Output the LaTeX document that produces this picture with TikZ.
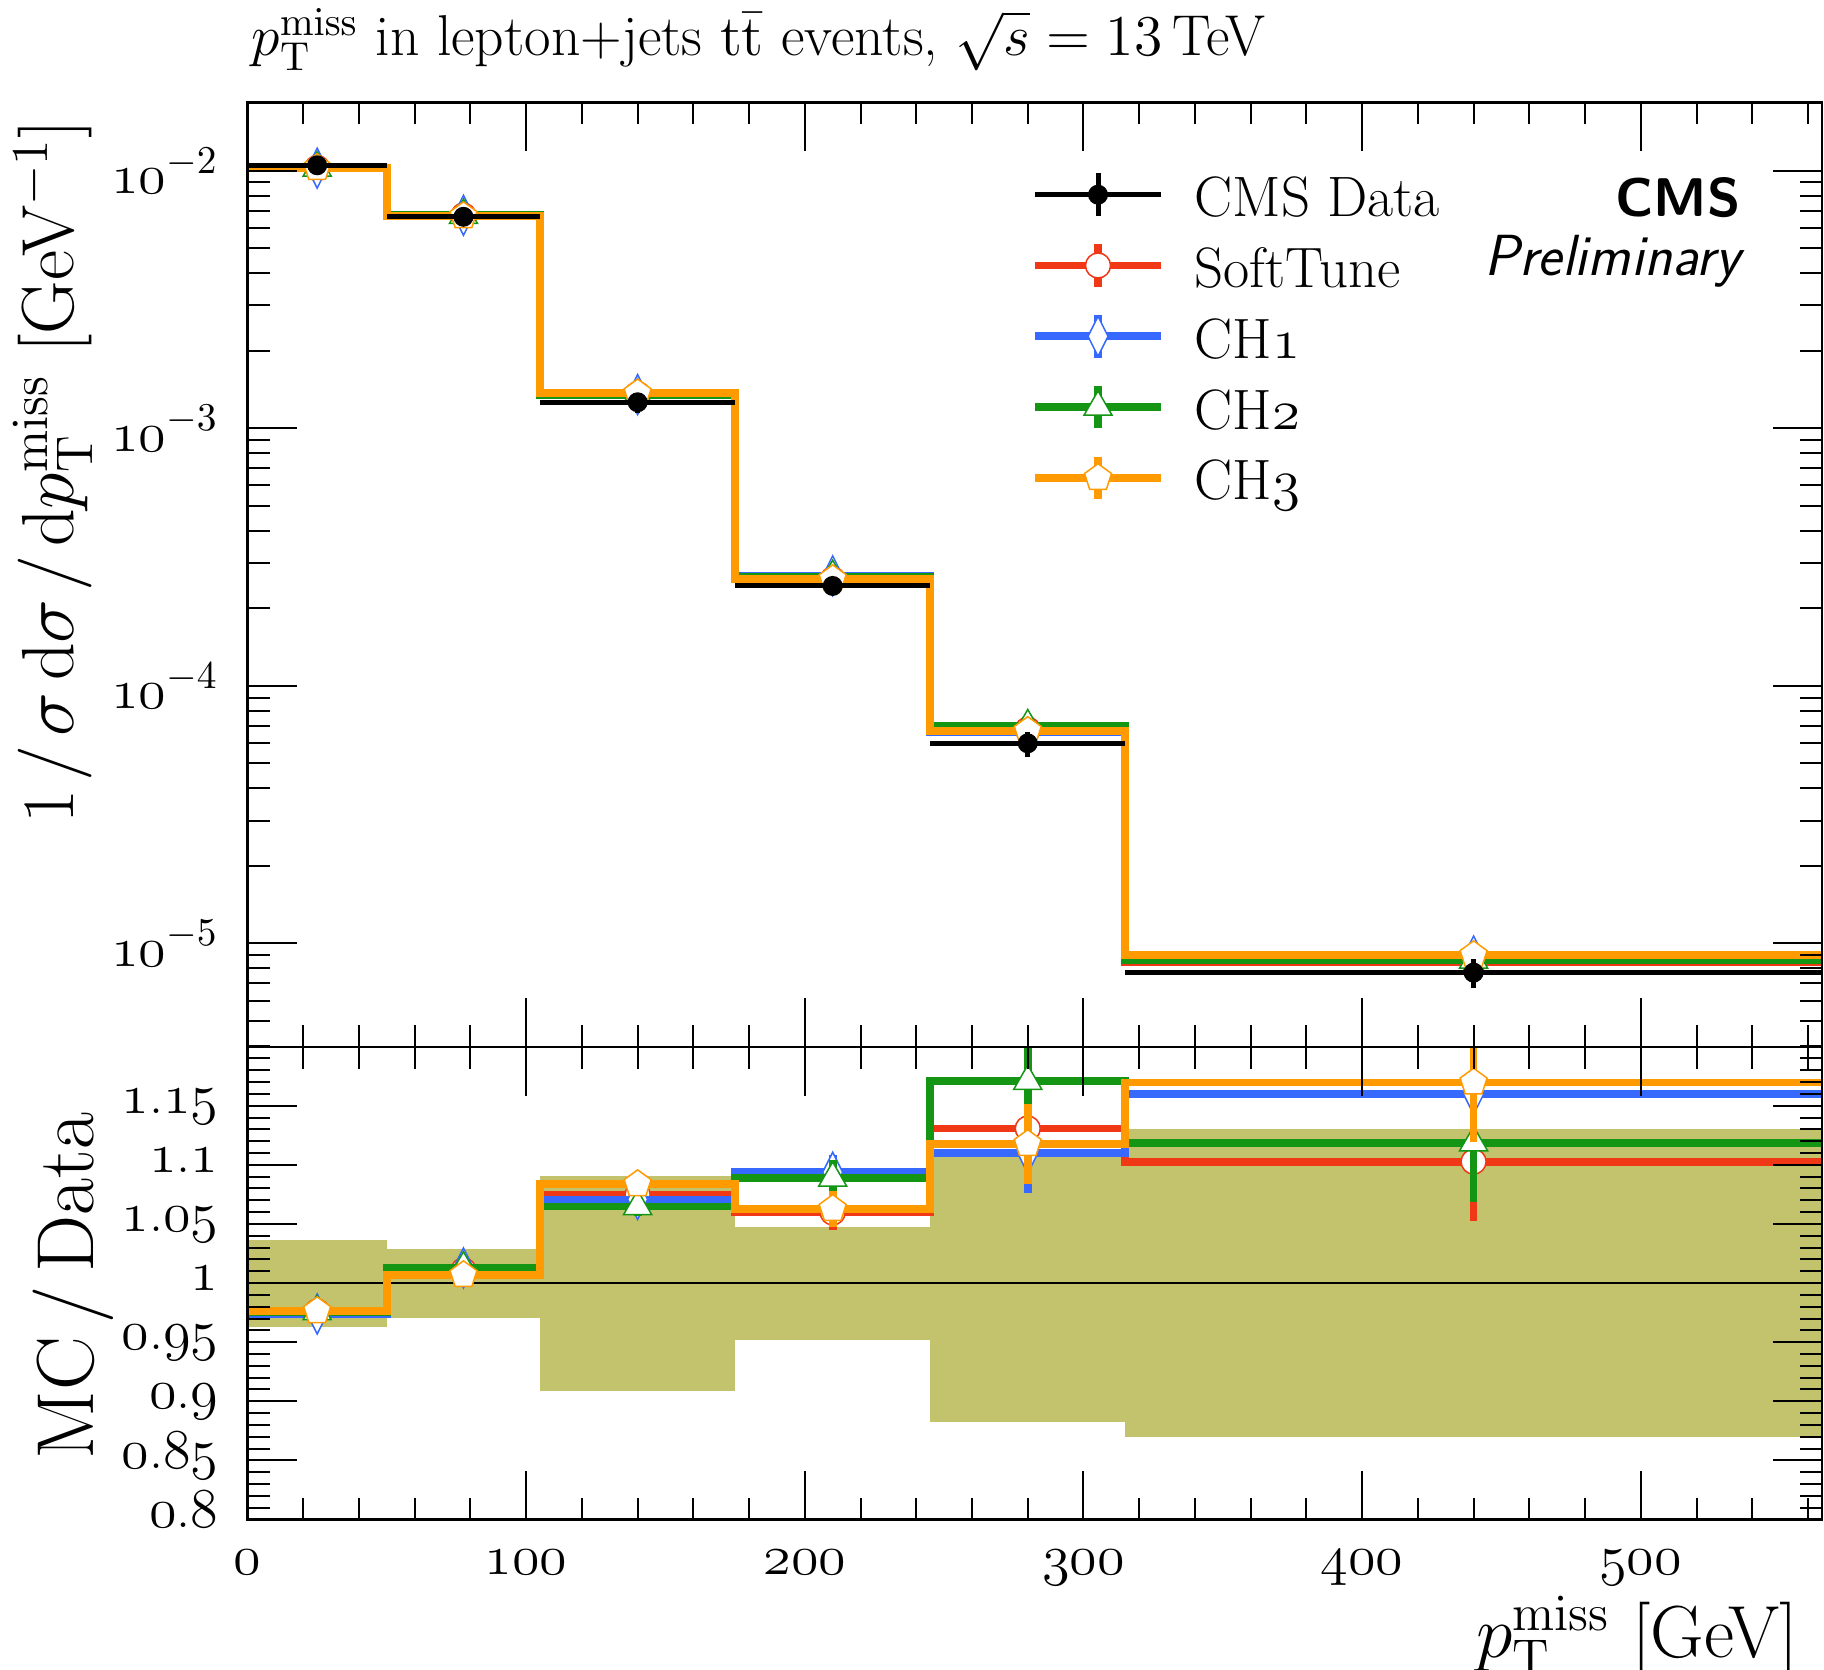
\RequirePackage{fix-cm}
\documentclass[tikz,border=0pt]{standalone}
\usepackage{tikz}
\usetikzlibrary{positioning}

\definecolor{softred}{RGB}{240,55,22}
\definecolor{chblue}{RGB}{55,105,255}
\definecolor{chgreen}{RGB}{20,150,20}
\definecolor{chorange}{RGB}{255,155,0}
\definecolor{bandolive}{RGB}{195,195,110}

% old style figures from the math italic font
\newcommand{\osn}[1]{{\fontencoding{OML}\fontfamily{cmm}\fontseries{m}\fontshape{it}\selectfont #1}}

% data: log10 of 1/sigma dsigma/dpT per bin
\newcommand{\lgA}{-1.979}
\newcommand{\lgB}{-2.179}
\newcommand{\lgC}{-2.899}
\newcommand{\lgD}{-3.612}
\newcommand{\lgE}{-4.223}
\newcommand{\lgF}{-5.113}
% MC stat. errors (ratio units)
\newcommand{\erA}{0.004}
\newcommand{\erB}{0.005}
\newcommand{\erC}{0.008}
\newcommand{\erD}{0.015}
\newcommand{\erE}{0.034}
\newcommand{\erF}{0.05}

\tikzset{
  frame/.style={line width=0.26mm},
  tck/.style={line width=0.2mm},
  dataline/.style={line width=0.5mm,black},
  softline/.style={line width=0.78mm,softred},
  choneline/.style={line width=0.78mm,chblue},
  chtwoline/.style={line width=0.78mm,chgreen},
  chthreeline/.style={line width=0.78mm,chorange},
  ticklab/.style={font=\fontsize{16}{19}\selectfont,inner sep=0pt},
  leglab/.style={font=\fontsize{16.2}{19}\selectfont,inner sep=0pt},
  axlab/.style={font=\fontsize{21}{25}\selectfont,inner sep=0pt},
  pics/datamk/.style={code={\fill[black] (0,0) circle[radius=1mm];}},
  pics/softmk/.style={code={\draw[softred,line width=0.15mm,fill=white] (0,0) circle[radius=1.25mm];}},
  pics/chonemk/.style={code={\draw[chblue,line width=0.15mm,fill=white] (0,2mm) -- (1mm,0) -- (0,-2mm) -- (-1mm,0) -- cycle;}},
  pics/chtwomk/.style={code={\draw[chgreen,line width=0.15mm,fill=white] (90:1.62mm) -- (210:1.62mm) -- (330:1.62mm) -- cycle;}},
  pics/chthreemk/.style={code={\draw[chorange,line width=0.15mm,fill=white] (90:1.42mm) -- (162:1.42mm) -- (234:1.42mm) -- (306:1.42mm) -- (18:1.42mm) -- cycle;}}
}

% one MC curve in the main panel: style, marker, six ratios to data
\newcommand{\mcmain}[8]{%
  \draw[#1] plot[const plot] coordinates {(0,{\lgA+log10(#3)}) (50,{\lgB+log10(#4)}) (105,{\lgC+log10(#5)}) (175,{\lgD+log10(#6)}) (245,{\lgE+log10(#7)}) (315,{\lgF+log10(#8)}) (565,{\lgF+log10(#8)})};
  \foreach \xc/\lg/\r/\e in {25/\lgA/#3/\erA,77.5/\lgB/#4/\erB,140/\lgC/#5/\erC,210/\lgD/#6/\erD,280/\lgE/#7/\erE,440/\lgF/#8/\erF}{
    \draw[#1] (\xc,{\lg+log10(\r-\e)}) -- (\xc,{\lg+log10(\r+\e)});
    \pic at (\xc,{\lg+log10(\r)}) {#2};
  }
}
% the same curve in the ratio panel
\newcommand{\mcratio}[8]{%
  \draw[#1] plot[const plot] coordinates {(0,#3) (50,#4) (105,#5) (175,#6) (245,#7) (315,#8) (565,#8)};
  \foreach \xc/\r/\e in {25/#3/\erA,77.5/#4/\erB,140/#5/\erC,210/#6/\erD,280/#7/\erE,440/#8/\erF}{
    \draw[#1] (\xc,{\r-\e}) -- (\xc,{\r+\e});
    \pic at (\xc,\r) {#2};
  }
}

\begin{document}
\begin{tikzpicture}[x=0.1mm,y=0.1mm]
  \useasboundingbox (0,0) rectangle (1824,1669);

  %% main panel, y = log10
  \begin{scope}[shift={(247.5,2013.5)},x=0.27866mm,y=25.76mm]
    \begin{scope}
      \clip (0,-5.4018) rectangle (565,-1.7352);
      \mcmain{softline}{softmk}{0.976}{1.011}{1.075}{1.060}{1.131}{1.103}
      \mcmain{choneline}{chonemk}{0.974}{1.013}{1.071}{1.094}{1.110}{1.160}
      \mcmain{chtwoline}{chtwomk}{0.976}{1.013}{1.065}{1.089}{1.171}{1.119}
      \mcmain{chthreeline}{chthreemk}{0.9765}{1.007}{1.084}{1.063}{1.118}{1.170}
      \foreach \lo/\hi/\xc/\lg/\dn/\up in {0/50/25/\lgA/0.9631/1.0363,50/105/77.5/\lgB/0.9708/1.029,105/175/140/\lgC/0.9092/1.0912,175/245/210/\lgD/0.952/1.0478,245/315/280/\lgE/0.8826/1.107,315/565/440/\lgF/0.8695/1.1303}{
        \draw[dataline] (\lo,\lg) -- (\hi,\lg);
        \draw[dataline] (\xc,{\lg+log10(\dn)}) -- (\xc,{\lg+log10(\up)});
        \pic at (\xc,\lg) {datamk};
      }
    \end{scope}
    % ticks
    \foreach \t in {0,20,...,560}{
      \draw[tck] (\t,-1.7352) -- ++(0,-2.2mm);
      \draw[tck] (\t,-5.4018) -- ++(0,2.2mm);
    }
    \foreach \t in {0,100,...,500}{
      \draw[tck] (\t,-1.7352) -- ++(0,-4.9mm);
      \draw[tck] (\t,-5.4018) -- ++(0,4.9mm);
    }
    \foreach \n in {-5,-4,-3}
      \foreach \k in {2,...,9}{
        \draw[tck] (0,{\n+log10(\k)}) -- ++(2.2mm,0);
        \draw[tck] (565,{\n+log10(\k)}) -- ++(-2.2mm,0);
      }
    \foreach \k in {4,...,9}{
      \draw[tck] (0,{-6+log10(\k)}) -- ++(2.2mm,0);
      \draw[tck] (565,{-6+log10(\k)}) -- ++(-2.2mm,0);
    }
    \foreach \n [count=\i] in {-5,-4,-3,-2}{
      \draw[tck] (0,\n) -- ++(4.9mm,0);
      \draw[tck] (565,\n) -- ++(-4.9mm,0);
      \node[ticklab,anchor=east,xshift=-2.85mm] (ylab\i) at (0,\n) {\osn{10}$^{\n}$};
    }
    \draw[frame] (0,-5.4018) rectangle (565,-1.7352);
  \end{scope}

  %% ratio panel, y = MC/Data
  \begin{scope}[shift={(247.5,-795.5)},x=0.27866mm,y=118.125mm]
    \begin{scope}
      \clip (0,0.8) rectangle (565,1.2);
      \foreach \lo/\hi/\dn/\up in {0/50/0.9631/1.0363,50/105/0.9708/1.029,105/175/0.9092/1.0912,175/245/0.952/1.0478,245/315/0.8826/1.107,315/565/0.8695/1.1303}
        \fill[bandolive] (\lo,\dn) rectangle (\hi,\up);
      \draw[tck] (0,1) -- (565,1);
      \mcratio{softline}{softmk}{0.976}{1.011}{1.075}{1.060}{1.131}{1.103}
      \mcratio{choneline}{chonemk}{0.974}{1.013}{1.071}{1.094}{1.110}{1.160}
      \mcratio{chtwoline}{chtwomk}{0.976}{1.013}{1.065}{1.089}{1.171}{1.119}
      \mcratio{chthreeline}{chthreemk}{0.9765}{1.007}{1.084}{1.063}{1.118}{1.170}
    \end{scope}
    % ticks
    \foreach \t in {0,20,...,560}{
      \draw[tck] (\t,1.2) -- ++(0,-2.2mm);
      \draw[tck] (\t,0.8) -- ++(0,2.2mm);
    }
    \foreach \t [count=\i] in {0,100,...,500}{
      \draw[tck] (\t,1.2) -- ++(0,-4.9mm);
      \draw[tck] (\t,0.8) -- ++(0,4.9mm);
      \node[ticklab,anchor=base] (xlab\i) at ([yshift=-5.45mm]\t,0.8) {\osn{\t}};
    }
    \foreach \r in {0.81,0.82,...,1.195}{
      \draw[tck] (0,\r) -- ++(2.2mm,0);
      \draw[tck] (565,\r) -- ++(-2.2mm,0);
    }
    \foreach \r/\lab [count=\i] in {0.8/{\osn{0}.\osn{8}},0.85/{\osn{0}.\osn{85}},0.9/{\osn{0}.\osn{9}},0.95/{\osn{0}.\osn{95}},1/{\osn{1}},1.05/{\osn{1}.\osn{05}},1.1/{\osn{1}.\osn{1}},1.15/{\osn{1}.\osn{15}}}{
      \draw[tck] (0,\r) -- ++(4.9mm,0);
      \draw[tck] (565,\r) -- ++(-4.9mm,0);
      \node[ticklab,anchor=mid east,xshift=-2.85mm] (rlab\i) at (0,\r) {\lab};
    }
    \draw[frame] (0,0.8) rectangle (565,1.2);
  \end{scope}

  %% legend
  \draw[dataline] (1035,1474.3) -- (1161,1474.3);
  \draw[dataline] (1098,1453) -- (1098,1495.6);
  \pic at (1098,1474.3) {datamk};
  \node[leglab,anchor=base west] (legdata) at (1194,1452.3) {CMS Data};

  \draw[softline] (1035,1403.5) -- (1161,1403.5);
  \draw[softline] (1098,1382.2) -- (1098,1424.8);
  \pic at (1098,1403.5) {softmk};
  \node[leglab,anchor=base west] (legsoft) at (1194,1381.5) {SoftTune};

  \draw[choneline] (1035,1332.7) -- (1161,1332.7);
  \draw[choneline] (1098,1311.4) -- (1098,1354);
  \pic at (1098,1332.7) {chonemk};
  \node[leglab,anchor=base west] (legone) at (1194,1310.7) {CH\osn{1}};

  \draw[chtwoline] (1035,1261.9) -- (1161,1261.9);
  \draw[chtwoline] (1098,1240.6) -- (1098,1283.2);
  \pic at (1098,1261.9) {chtwomk};
  \node[leglab,anchor=base west] (legtwo) at (1194,1239.9) {CH\osn{2}};

  \draw[chthreeline] (1035,1191.1) -- (1161,1191.1);
  \draw[chthreeline] (1098,1169.8) -- (1098,1212.4);
  \pic at (1098,1191.1) {chthreemk};
  \node[leglab,anchor=base west] (legthree) at (1194,1169.1) {CH\osn{3}};

  %% labels
  \node[leglab,font=\fontsize{15.5}{18}\selectfont\sffamily\bfseries,anchor=base east] (cms) at (1741,1452.3) {CMS};
  \node[leglab,font=\fontsize{16.5}{19}\selectfont\sffamily\itshape,anchor=base east] (prelim) at (1741,1393) {Preliminary};
  \node[leglab,font=\fontsize{16.4}{19}\selectfont,anchor=base west] (title) at (251,1613) {$p_\mathrm{T}^\mathrm{miss}$ in lepton+jets $\mathrm{t\bar{t}}$ events, $\sqrt{s}=13\,$TeV};
  \node[axlab,anchor=base east] (xaxis) at (1799,12) {$p_\mathrm{T}^\mathrm{miss}$ [GeV]};
  \node[axlab,rotate=90,anchor=base east] (yaxis) at (74,1550) {$1\mkern2mu/\mkern2mu\sigma\,\mathrm{d}\sigma\mkern2mu/\mkern2mu\mathrm{d}p_\mathrm{T}^\mathrm{miss}$ [GeV$^{-1}$]};
  \node[axlab,font=\fontsize{23}{27}\selectfont,rotate=90,anchor=base east] (ratioaxis) at (93.7,557.2) {MC\,/\,Data};
\end{tikzpicture}
\end{document}
